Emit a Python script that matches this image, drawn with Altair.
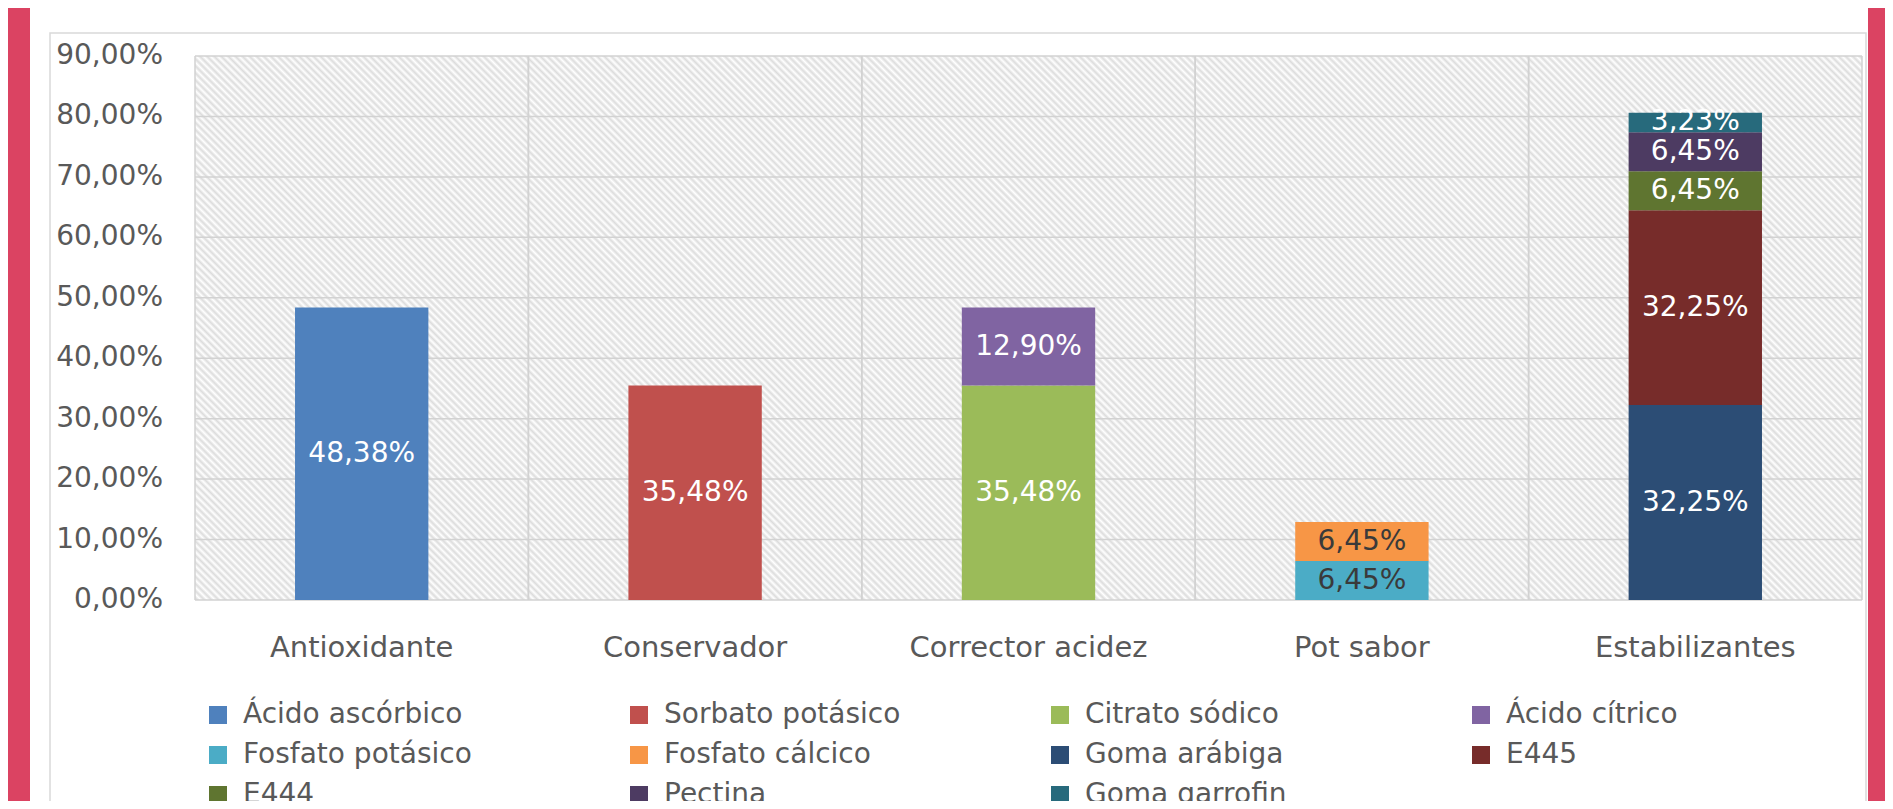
import altair as alt
import pandas as pd

# ---------------- data ----------------
categories = ["Antioxidante", "Conservador", "Corrector acidez", "Pot sabor", "Estabilizantes"]
components = ["Ácido ascórbico", "Sorbato potásico", "Citrato sódico", "Ácido cítrico",
              "Fosfato potásico", "Fosfato cálcico", "Goma arábiga", "E445",
              "E444", "Pectina", "Goma garrofin"]
component_category = ["Antioxidante", "Conservador", "Corrector acidez", "Corrector acidez",
                      "Pot sabor", "Pot sabor", "Estabilizantes", "Estabilizantes",
                      "Estabilizantes", "Estabilizantes", "Estabilizantes"]
values = [48.38, 35.48, 35.48, 12.90, 6.45, 6.45, 32.25, 32.25, 6.45, 6.45, 3.23]
colors = ["#4F81BD", "#C0504D", "#9BBB59", "#8064A2", "#4BACC6", "#F79646",
          "#2C4D75", "#772C2A", "#5F7530", "#4D3B62", "#276A7C"]
y_ticks = [0, 10, 20, 30, 40, 50, 60, 70, 80, 90]

df = pd.DataFrame({
    "cat": component_category,
    "comp": components,
    "value": values,
    "idx": list(range(len(components))),
})

# ---------------- layout / style ----------------
W, H = 1667, 544
FONT = "DejaVu Sans"
TXT = "#595959"
GRID = "#d2d2d2"
CRIMSON = "#DB4362"
PCT = "replace(format(datum.{f}, '.2f'), '.', ',') + '%'"

xscale = alt.Scale(domain=categories, paddingInner=0.6, paddingOuter=0.3)
yscale = alt.Scale(domain=[0, 90], nice=False, zero=True)
one = alt.Data(values=[{"k": 1}])

# diagonal hatch as a many-stop gradient on a square rect (clipped to plot)
n_per = 470
stops = []
for k in range(n_per):
    stops.append(alt.GradientStop(offset=round(k / n_per, 6), color="#ffffff"))
    stops.append(alt.GradientStop(offset=round((k + 0.5) / n_per, 6), color="#dcdcdc"))
stops.append(alt.GradientStop(offset=1.0, color="#ffffff"))
hatch_fill = alt.LinearGradient(gradient="linear", stops=stops, x1=0, y1=1, x2=1, y2=0)

panel = alt.Chart(one).mark_rect(fill="white").encode(
    x=alt.value(-165), x2=alt.value(1673), y=alt.value(-48), y2=alt.value(760))

frame = alt.Chart(one).mark_rect(fillOpacity=0, stroke="#d9d9d9", strokeWidth=1.5).encode(
    x=alt.value(-145), x2=alt.value(1671), y=alt.value(-23), y2=alt.value(790))

hatch = alt.Chart(one).mark_rect(fill=hatch_fill, clip=True).encode(
    x=alt.value(0), x2=alt.value(W), y=alt.value(H / 2 - W / 2), y2=alt.value(H / 2 + W / 2))

cat_df = pd.DataFrame({"cat": categories})
vsep0 = alt.Chart(cat_df).mark_rule(color=GRID, strokeWidth=1.5).encode(
    x=alt.X("cat:N", sort=categories, bandPosition=0,
            scale=alt.Scale(domain=categories, paddingInner=0, paddingOuter=0), axis=None))
vsep1 = alt.Chart(cat_df).mark_rule(color=GRID, strokeWidth=1.5).encode(
    x=alt.X("cat:N", sort=categories, bandPosition=1,
            scale=alt.Scale(domain=categories, paddingInner=0, paddingOuter=0), axis=None))

tick_df = pd.DataFrame({"t": y_ticks})
hgrid = alt.Chart(tick_df).mark_rule(color=GRID, strokeWidth=1.5).encode(
    y=alt.Y("t:Q", scale=yscale, axis=None))

ylabels = alt.Chart(tick_df).transform_calculate(
    lab=PCT.format(f="t")
).mark_text(font=FONT, fontSize=28, color=TXT, align="right", baseline="middle").encode(
    x=alt.value(-32),
    y=alt.Y("t:Q", scale=yscale, axis=None),
    text="lab:N",
)

bars = alt.Chart(df).mark_bar().encode(
    x=alt.X("cat:N", sort=categories, scale=xscale,
            axis=alt.Axis(title=None, labelAngle=0, ticks=False, domain=False, grid=False,
                          zindex=1, labelLimit=500,
                          labelFont=FONT, labelFontSize=29, labelColor=TXT, labelPadding=33)),
    y=alt.Y("value:Q", stack="zero", scale=yscale, axis=None),
    color=alt.Color("comp:N", sort=components,
                    scale=alt.Scale(domain=components, range=colors),
                    legend=alt.Legend(title=None, orient="none", legendX=9, legendY=645,
                                      direction="horizontal", columns=4, gridAlign="all",
                                      columnPadding=145, rowPadding=12, padding=0,
                                      symbolType="square", symbolSize=324,
                                      symbolStrokeWidth=0, symbolOpacity=1,
                                      labelFont=FONT, labelFontSize=28, labelColor=TXT,
                                      labelOffset=11, labelLimit=500)),
    order=alt.Order("idx:Q", sort="ascending"),
)

labels = alt.Chart(df).transform_stack(
    stack="value", groupby=["cat"], as_=["y0", "y1"],
    sort=[alt.SortField("idx", order="ascending")]
).transform_calculate(
    mid="(datum.y0 + datum.y1) / 2",
    label=PCT.format(f="value"),
).mark_text(font=FONT, fontSize=28, baseline="middle", align="center").encode(
    x=alt.X("cat:N", sort=categories, scale=xscale, axis=None),
    y=alt.Y("mid:Q", scale=yscale, axis=None),
    text="label:N",
    color=alt.condition(alt.datum.cat == "Pot sabor", alt.value("#3a3a3a"), alt.value("#ffffff")),
)

chart = alt.layer(panel, frame, hatch, vsep0, vsep1, hgrid, ylabels, bars, labels).resolve_scale(
    x="independent"
).properties(
    width=W, height=H, background=CRIMSON,
    padding={"left": 187, "top": 48, "right": 23, "bottom": 201},
    autosize=alt.AutoSizeParams(type="none"),
).configure_view(stroke=None)

chart.save("out.html", embed_options={"renderer": "svg", "actions": False})
